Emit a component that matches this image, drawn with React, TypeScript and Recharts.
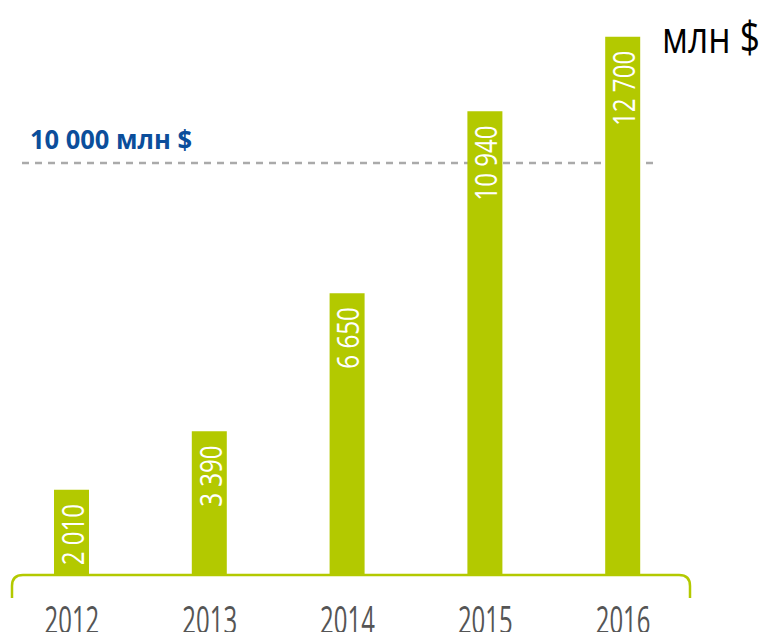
import React from 'react';
import {BarChart, Bar, XAxis, YAxis, ReferenceLine, LabelList} from 'recharts';

const years = ['2012', '2013', '2014', '2015', '2016'];
const revenue = [2010, 3390, 6650, 10940, 12700];
const thresholdLabel = '10 000 млн $';
const thresholdLevel = 9720; // where the dashed line sits in the picture
const unitLabel = 'млн $';

const green = '#b3c900';
const font = "'Open Sans', 'Liberation Sans', sans-serif";

const chartData = years.map((year, i) => ({year, value: revenue[i]}));

const formatNum = (v: number) => String(v).replace(/\B(?=(\d{3})+(?!\d))/g, ' ');

// the original uses a condensed face, so squeeze the glyphs horizontally
const squeeze = (x: number, y: number, k: number) => `translate(${x} ${y}) scale(${k} 1) translate(${-x} ${-y})`;

const ValueLabel = (props: any) => {
  const {x, y, width, value} = props;
  const cx = x + width / 2;
  const top = y + 14;
  return (
    <text
      x={cx}
      y={top}
      transform={`rotate(-90 ${cx} ${top}) ${squeeze(cx, top, 0.78)}`}
      textAnchor="end"
      dominantBaseline="central"
      fill="#fff"
      fontSize={31}
      fontWeight={400}
      fontFamily={font}
    >
      {formatNum(value)}
    </text>
  );
};

const YearTick = (props: any) => {
  const {x, y, payload} = props;
  const base = y + 27;
  return (
    <text
      x={x}
      y={base}
      transform={squeeze(x, base, 0.63)}
      textAnchor="middle"
      fill="#555555"
      fontSize={38}
      fontWeight={500}
      fontFamily={font}
    >
      {payload.value}
    </text>
  );
};

// baseline with rounded ends turning down
const Bracket = (props: any) => {
  const {x1, x2, y1} = props;
  const l = x1 + 9;
  const r = x2 - 2;
  const rad = 11;
  const bottom = y1 + 23;
  const d = `M${l},${bottom} L${l},${y1 + rad} Q${l},${y1} ${l + rad},${y1} L${r - rad},${y1} Q${r},${y1} ${r},${y1 + rad} L${r},${bottom}`;
  return <path d={d} fill="none" stroke={green} strokeWidth={2.5} />;
};

const ThresholdLine = (props: any) => {
  const {x1, x2, y1} = props;
  return (
    <g>
      <line x1={x1 + 19} x2={x2 - 37} y1={y1} y2={y1} stroke="#aaaaaa" strokeWidth={2.5} strokeDasharray="7 6" />
      <text
        x={x1 + 27}
        y={y1 - 14}
        fill="#0b4e9b"
        fontSize={27}
        fontWeight="bold"
        fontFamily={font}
        textLength={162}
        lengthAdjust="spacingAndGlyphs"
      >
        {thresholdLabel}
      </text>
    </g>
  );
};

export default function App() {
  return (
    <div style={{position: 'absolute', left: 0, top: 0, width: 763, height: 632, background: '#fff'}}>
      <BarChart width={763} height={632} data={chartData} margin={{top: 24, right: 71, left: 3, bottom: 0}}>
        <XAxis
          dataKey="year"
          axisLine={false}
          tickLine={false}
          tickSize={0}
          tickMargin={32}
          height={57}
          tick={YearTick}
        />
        <YAxis hide domain={[0, 13000]} />
        <ReferenceLine y={thresholdLevel} shape={ThresholdLine} zIndex={0} />
        <Bar dataKey="value" fill={green} barSize={35} isAnimationActive={false}>
          <LabelList dataKey="value" content={ValueLabel} />
        </Bar>
        <ReferenceLine y={0} shape={Bracket} ifOverflow="visible" />
      </BarChart>
      <svg width={110} height={70} style={{position: 'absolute', left: 653, top: 0}}>
        <text x={9} y={53} fontSize={43} fontFamily={font} fill="#000" textLength={98} lengthAdjust="spacingAndGlyphs">
          {unitLabel}
        </text>
      </svg>
    </div>
  );
}
